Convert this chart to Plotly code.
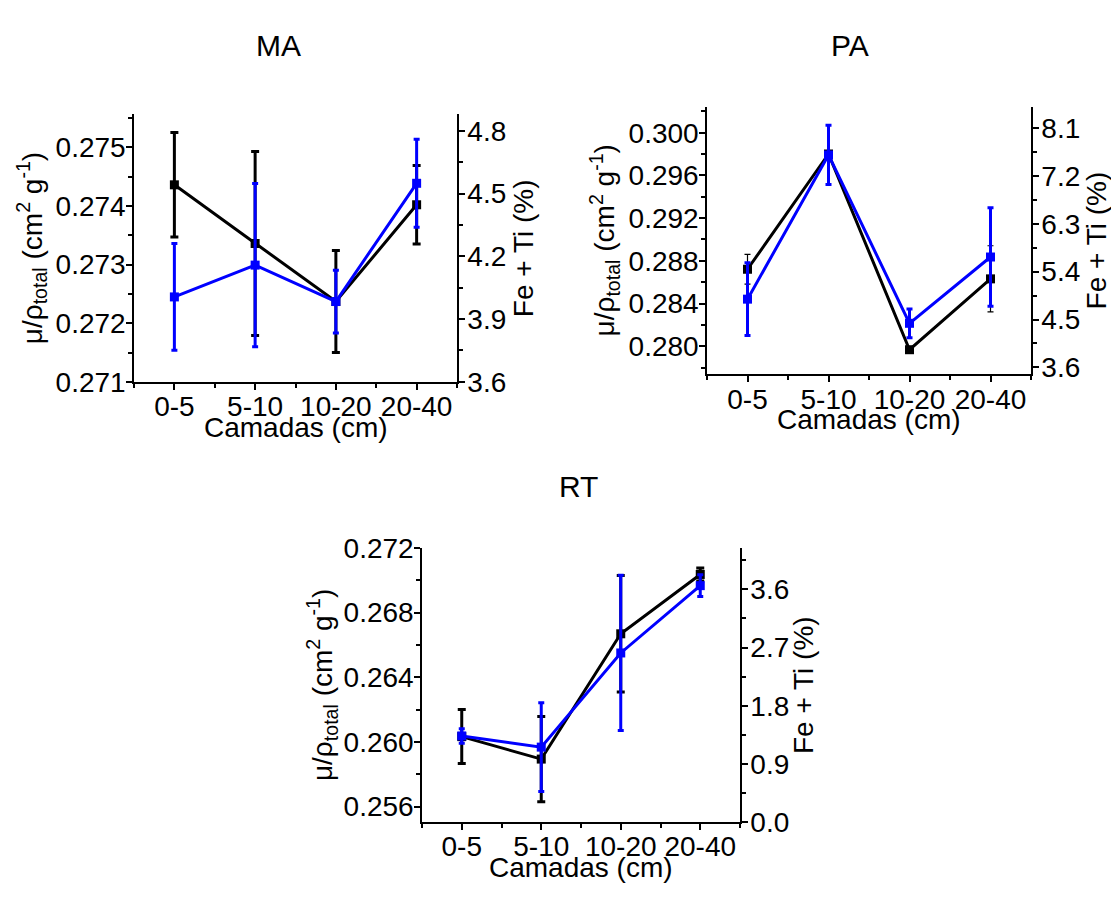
import plotly.graph_objects as go

# Soil layers (x categories)
camadas = ["0-5", "5-10", "10-20", "20-40"]

# MA: mass attenuation coefficient (left axis) and Fe + Ti content (right axis)
ma_mu = [0.27436, 0.27336, 0.27237, 0.27402]
ma_mu_err = [0.00089, 0.00157, 0.00087, 0.00067]
ma_feti = [4.006, 4.158, 3.984, 4.549]
ma_feti_err = [0.255, 0.39, 0.15, 0.21]

# PA
pa_mu = [0.28721, 0.29801, 0.27967, 0.28631]
pa_mu_err = [0.0014, 0.0003, 0.0002, 0.0031]
pa_feti = [4.883, 7.593, 4.429, 5.675]
pa_feti_err = [0.685, 0.557, 0.27, 0.926]

# RT
rt_mu = [0.26033, 0.25894, 0.26669, 0.27036]
rt_mu_err = [0.00167, 0.00264, 0.0036, 0.0004]
rt_feti = [1.333, 1.16, 2.616, 3.657]
rt_feti_err = [0.112, 0.685, 1.2, 0.167]

W, H = 1111, 898
FONT = "Liberation Sans, Arial, sans-serif"
FS = 28
BLUE = "#0000ff"
BLACK = "#000000"

fig = go.Figure()


def px_x(v):
    return v / W


def px_y(v):
    return 1 - v / H


def label(text, x, y, size=FS, angle=0):
    fig.add_annotation(text=text, x=px_x(x), y=px_y(y), xref="paper", yref="paper",
                       xanchor="center", yanchor="middle", showarrow=False,
                       textangle=angle, font=dict(family=FONT, size=size, color=BLACK))


def panel(idx, title, mu, mu_err, feti, feti_err, box, left_rng, left_dt, right_rng,
          right_dt, title_xy, ltitle_x, rtitle_x, black_thin=False):
    x0, x1, y0, y1 = box  # pixel box: left, right, top, bottom
    xa = "x" if idx == 1 else f"x{idx}"
    ya_l = f"y{2 * idx - 1}" if idx > 1 else "y"
    ya_r = f"y{2 * idx}"
    xs = list(range(len(camadas)))

    fig.add_trace(go.Scatter(
        x=xs, y=mu, mode="lines+markers", xaxis=xa, yaxis=ya_l,
        line=dict(color=BLACK, width=3),
        marker=dict(symbol="square", size=9, color=BLACK),
        error_y=dict(type="data", array=mu_err, visible=True, color=BLACK,
                     thickness=1.2 if black_thin else 3, width=3 if black_thin else 4),
        showlegend=False, cliponaxis=False))
    fig.add_trace(go.Scatter(
        x=xs, y=feti, mode="lines+markers", xaxis=xa, yaxis=ya_r,
        line=dict(color=BLUE, width=3),
        marker=dict(symbol="square", size=9, color=BLUE),
        error_y=dict(type="data", array=feti_err, visible=True, color=BLUE,
                     thickness=3, width=3),
        showlegend=False, cliponaxis=False))

    dom_x = [px_x(x0), px_x(x1)]
    dom_y = [px_y(y1), px_y(y0)]
    tickfont = dict(family=FONT, size=FS, color=BLACK)
    axis_common = dict(showline=True, linecolor=BLACK, linewidth=1.5, ticks="outside",
                       ticklen=6, tickwidth=1.5, tickcolor=BLACK, showgrid=False,
                       zeroline=False, tickfont=tickfont)
    xkey = "xaxis" if idx == 1 else f"xaxis{idx}"
    ylkey = "yaxis" if idx == 1 else f"yaxis{2 * idx - 1}"
    yrkey = f"yaxis{2 * idx}"
    fig.update_layout(**{
        xkey: dict(domain=dom_x, anchor=ya_l, range=[-0.5, 3.5], tickmode="array",
                   tickvals=xs, ticktext=camadas, ticklabelstandoff=-7,
                   minor=dict(dtick=0.5, tick0=-0.5, ticks="outside", ticklen=4,
                              tickcolor=BLACK, tickwidth=1.5),
                   **axis_common),
        ylkey: dict(domain=dom_y, anchor=xa, range=left_rng, dtick=left_dt,
                    tick0=0, tickformat=".3f", ticklabelstandoff=-5,
                    minor=dict(dtick=left_dt / 2, ticks="outside", ticklen=4,
                               tickcolor=BLACK, tickwidth=1.5),
                    **axis_common),
        yrkey: dict(domain=dom_y, anchor=xa, overlaying=ya_l, side="right",
                    range=right_rng, dtick=right_dt, tick0=0, tickformat=".1f",
                    ticklabelstandoff=-3,
                    minor=dict(dtick=right_dt / 2, ticks="outside", ticklen=4,
                               tickcolor=BLACK, tickwidth=1.5),
                    **axis_common),
    })

    ymid = (y0 + y1) / 2
    label(title, title_xy[0], title_xy[1], size=30)
    label("Camadas (cm)", (x0 + x1) / 2, y1 + 47)
    label("μ/ρ<sub>total</sub> (cm<sup>2</sup> g<sup>-1</sup>)", ltitle_x, ymid, angle=-90)
    label("Fe + Ti (%)", rtitle_x, ymid, angle=-90)


panel(1, "MA", ma_mu, ma_mu_err, ma_feti, ma_feti_err, (134, 457, 103, 380),
      [0.271, 0.27556], 0.001, [3.6, 4.878], 0.3, (278, 32), 32, 523)
panel(2, "PA", pa_mu, pa_mu_err, pa_feti, pa_feti_err, (707, 1031, 95, 372),
      [0.27738, 0.30244], 0.004, [3.473, 8.5], 0.9, (850, 32), 605, 1096, black_thin=True)
panel(3, "RT", rt_mu, rt_mu_err, rt_feti, rt_feti_err, (422, 740, 552, 836),
      [0.25504, 0.272], 0.004, [0.0, 4.24], 0.9, (578, 488), 322, 803)

fig.update_layout(width=W, height=H, margin=dict(l=0, r=0, t=0, b=0),
                  paper_bgcolor="white", plot_bgcolor="white",
                  font=dict(family=FONT, size=FS, color=BLACK))

fig.write_html("out.html")
